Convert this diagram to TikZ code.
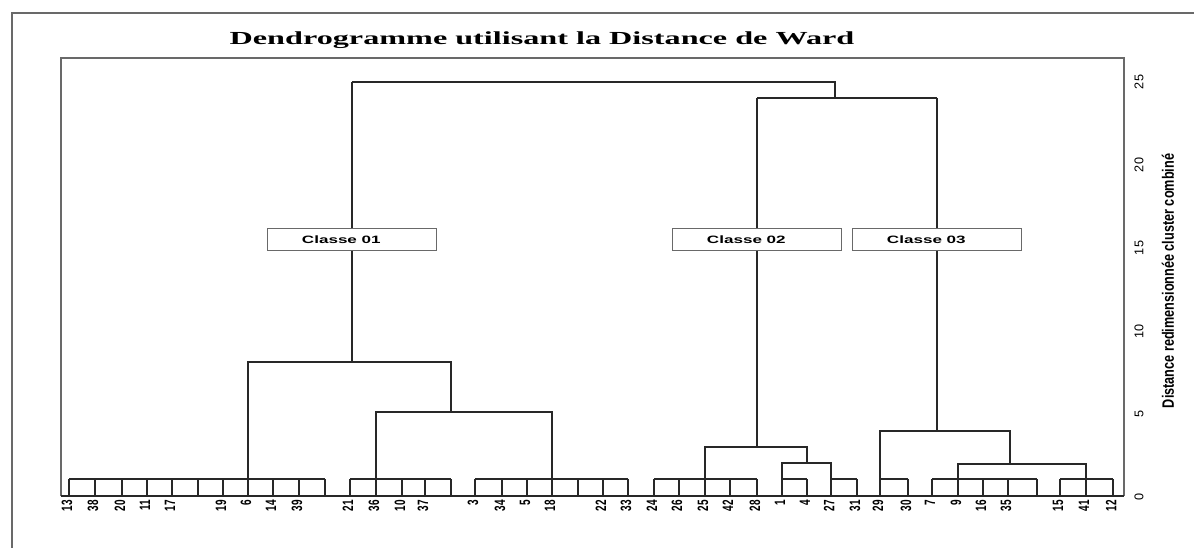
\documentclass[tikz,border=0pt]{standalone}
\usepackage{fontspec}
\setmainfont{Liberation Serif}
\setsansfont{Liberation Sans}
\usepackage{tikz}
\definecolor{dendro}{RGB}{40,40,40}
\definecolor{cadre}{RGB}{105,105,105}

\begin{document}
\begin{tikzpicture}[x=0.75pt,y=0.75pt,yscale=-1,xscale=1,
  branche/.style={color=dendro,line width=1.9pt},
  feuille/.style={color=dendro,line width=1.3pt},
  classebox/.style={draw=cadre,fill=white,line width=0.9pt,minimum width=127pt,minimum height=16pt,inner sep=0pt,font=\sffamily\bfseries\fontsize{8}{9}\selectfont},
  num/.style={rotate=90,anchor=east,inner sep=0.75pt,font=\sffamily\bfseries\fontsize{7.5}{8}\selectfont},
  graduation/.style={rotate=90,inner sep=0.75pt,font=\sffamily\fontsize{9.5}{10}\selectfont}]
\useasboundingbox (0,0) rectangle (1194,548);

%Frame
\draw [color=cadre,line width=1.2pt] (12,548) -- (12,13) -- (1194,13) ;
%Plot box
\draw [color=cadre,line width=1.3pt] (61,496) -- (61,58) -- (1124,58) -- (1124,496) ;
\draw [feuille] (61,496) -- (1124,496) ;

%Leaf boxes
\foreach \a/\b in {69/325,350/451,475/628,654/757,782/807,831/857,880/908,932/1037,1060/1113}
  \draw [feuille] (\a,479) -- (\b,479) ;
\foreach \x in {69,95,122,147,172,198,223,248,273,299,325,350,376,402,425,451,475,502,527,552,578,603,628,654,679,705,730,757,782,807,831,857,880,908,932,958,983,1008,1037,1060,1086,1113}
  \draw [feuille] (\x,479) -- (\x,496) ;

%Leaf labels
\foreach \x/\lab in {69/13,95/38,122/20,147/11,172/17,223/19,248/6,273/14,299/39,350/21,376/36,402/10,425/37,475/3,502/34,527/5,552/18,603/22,628/33,654/24,679/26,705/25,730/42,757/28,782/1,807/4,831/27,857/31,880/29,908/30,932/7,958/9,983/16,1008/35,1060/15,1086/41,1113/12}
  \node [num] (n\lab) at (\x-2,499) {\scalebox{1}[1.5]{\lab}};

% Class boxes
\node [classebox] (classe01) at (352,239.5) {\scalebox{1.6}[1]{Classe 01}\hspace*{16pt}};
\node [classebox] (classe02) at (757,239.5) {\scalebox{1.6}[1]{Classe 02}\hspace*{16pt}};
\node [classebox] (classe03) at (937,239.5) {\scalebox{1.6}[1]{Classe 03}\hspace*{16pt}};

%Top joins
\draw [branche] (352,82) -- (835,82) -- (835,98) ;
\draw [branche] (757,98) -- (937,98) ;
\draw [branche] (352,82) -- (classe01.north) ;
\draw [branche] (757,98) -- (classe02.north) ;
\draw [branche] (937,98) -- (classe03.north) ;

%Classe 01
\draw [branche] (classe01.south) -- (352,362) ;
\draw [branche] (248,479) -- (248,362) -- (451,362) -- (451,412) ;
\draw [branche] (376,479) -- (376,412) -- (552,412) -- (552,479) ;

%Classe 02
\draw [branche] (classe02.south) -- (757,447) ;
\draw [branche] (705,479) -- (705,447) -- (807,447) -- (807,463) ;
\draw [branche] (782,479) -- (782,463) -- (831,463) -- (831,479) ;

%Classe 03
\draw [branche] (classe03.south) -- (937,431) ;
\draw [branche] (880,479) -- (880,431) -- (1010,431) -- (1010,464) ;
\draw [branche] (958,479) -- (958,464) -- (1086,464) -- (1086,479) ;

% Text Node
\node [font=\bfseries\fontsize{13.8}{15}\selectfont] (titre) at (542,40) {\scalebox{1.75}[1]{Dendrogramme utilisant la Distance de Ward}};
% Text Node
\node [rotate=90,font=\sffamily\bfseries\fontsize{9.5}{11}\selectfont] (axe) at (1168,281) {\scalebox{1}[1.3]{Distance redimensionnée cluster combiné}};
% Axis values
\foreach \v in {0,5,...,25}
  \node [graduation] (g\v) at (1139,{497-16.6*\v}) {\v};

\end{tikzpicture}
\end{document}
